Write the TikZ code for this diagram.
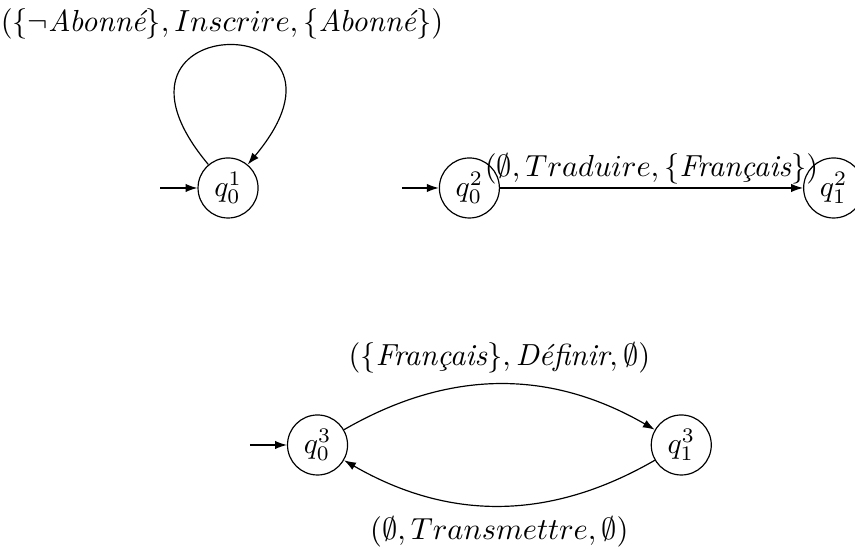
\documentclass[tikz,border=0pt]{standalone}
\usepackage{amsmath}
\usetikzlibrary{arrows.meta,positioning}

\begin{document}
\begin{tikzpicture}[
  state/.style={circle,draw,minimum size=0.713cm,inner sep=0pt},
  lbl/.style={scale=1.03},
  arr/.style={-{Latex[length=4pt,width=2.8pt]}}
]
  \useasboundingbox (0,0) rectangle (10.157,6.510);

  % first automaton
  \node[state] (q01) at (2.709,4.277) {$q_0^1$};
  \coordinate[left=0.44cm of q01] (in1);

  % second automaton
  \node[state, right=2.14cm of q01] (q02) {$q_0^2$};
  \node[state, right=3.6cm of q02]  (q12) {$q_1^2$};
  \coordinate[left=0.44cm of q02] (in2);

  % third automaton
  \node[state] (q03) at (3.772,1.224) {$q_0^3$};
  \node[state, right=3.594cm of q03] (q13) {$q_1^3$};
  \coordinate[left=0.44cm of q03] (in3);

  \draw[arr] (in1)--(q01); \draw[arr] (in2)--(q02); \draw[arr] (in3)--(q03);

  \draw[arr] (q01.130) .. controls +(130:2.46cm) and +(50:2.46cm) ..
        node[lbl,above,inner sep=2pt,xshift=-0.07cm] {$(\{\neg \textit{Abonn\'e}\}, Inscrire, \{\textit{Abonn\'e}\})$} (q01.50);
  \draw[arr] (q02) -- node[lbl,above,inner sep=1pt]
        {$(\emptyset, Traduire, \{\textit{Fran\c{c}ais}\})$} (q12);
  \draw[arr] (q03) to[bend left=30] node[lbl,above]
        {$(\{\textit{Fran\c{c}ais}\}, \textit{D\'efinir}, \emptyset)$} (q13);
  \draw[arr] (q13) to[bend left=30] node[lbl,below]
        {$(\emptyset, Transmettre, \emptyset)$} (q03);
\end{tikzpicture}
\end{document}
